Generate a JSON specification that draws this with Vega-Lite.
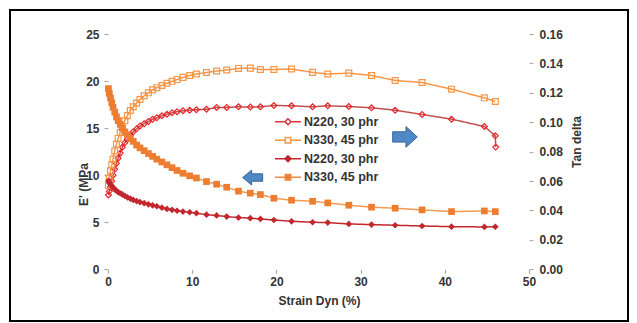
{
  "$schema": "https://vega.github.io/schema/vega-lite/v6.json",
  "width": 618,
  "height": 311,
  "autosize": {"type": "none"},
  "padding": {"left": 10, "top": 10, "right": 9, "bottom": 2},
  "background": "white",
  "config": {
    "view": {"stroke": "black", "strokeWidth": 2},
    "font": "Liberation Sans",
    "axis": {
      "domain": false, "grid": false,
      "tickColor": "#ABABAB", "tickSize": 4, "tickWidth": 1.2,
      "labelFont": "Liberation Sans", "labelFontSize": 12, "labelFontWeight": "bold", "labelColor": "#333333",
      "titleFont": "Liberation Sans", "titleFontSize": 12, "titleFontWeight": "bold", "titleColor": "#333333"
    }
  },
  "datasets": {
    "arrows": [
      {"dir": "right", "x": 35.27, "v": 0.0900},
      {"dir": "left", "x": 17.18, "v": 0.0624}
    ],
    "tan": [
      {"s":"N220 tan","x":0.05,"v":0.0506},{"s":"N220 tan","x":0.15,"v":0.053},{"s":"N220 tan","x":0.3,"v":0.056},{"s":"N220 tan","x":0.45,"v":0.060},{"s":"N220 tan","x":0.6,"v":0.064},
      {"s":"N220 tan","x":0.8,"v":0.068},{"s":"N220 tan","x":1.0,"v":0.072},{"s":"N220 tan","x":1.2,"v":0.0755},{"s":"N220 tan","x":1.45,"v":0.079},{"s":"N220 tan","x":1.7,"v":0.083},
      {"s":"N220 tan","x":2.0,"v":0.086},{"s":"N220 tan","x":2.3,"v":0.0885},{"s":"N220 tan","x":2.65,"v":0.091},{"s":"N220 tan","x":3.0,"v":0.0935},{"s":"N220 tan","x":3.4,"v":0.0955},
      {"s":"N220 tan","x":3.8,"v":0.0975},{"s":"N220 tan","x":4.3,"v":0.099},{"s":"N220 tan","x":4.8,"v":0.1005},{"s":"N220 tan","x":5.3,"v":0.102},{"s":"N220 tan","x":5.8,"v":0.103},
      {"s":"N220 tan","x":6.4,"v":0.1044},{"s":"N220 tan","x":7.0,"v":0.1055},{"s":"N220 tan","x":7.6,"v":0.1064},{"s":"N220 tan","x":8.2,"v":0.1072},{"s":"N220 tan","x":8.9,"v":0.1078},
      {"s":"N220 tan","x":9.7,"v":0.1082},{"s":"N220 tan","x":10.5,"v":0.1085},{"s":"N220 tan","x":11.7,"v":0.1088},{"s":"N220 tan","x":12.9,"v":0.110},{"s":"N220 tan","x":14.1,"v":0.110},
      {"s":"N220 tan","x":15.5,"v":0.1105},{"s":"N220 tan","x":16.9,"v":0.1103},{"s":"N220 tan","x":18.1,"v":0.1105},{"s":"N220 tan","x":19.7,"v":0.1114},{"s":"N220 tan","x":21.8,"v":0.1112},
      {"s":"N220 tan","x":24.3,"v":0.1105},{"s":"N220 tan","x":26.1,"v":0.1112},{"s":"N220 tan","x":28.6,"v":0.1107},{"s":"N220 tan","x":31.3,"v":0.1098},{"s":"N220 tan","x":34.1,"v":0.1082},
      {"s":"N220 tan","x":37.3,"v":0.1053},{"s":"N220 tan","x":40.8,"v":0.1021},{"s":"N220 tan","x":44.7,"v":0.0971},{"s":"N220 tan","x":46.0,"v":0.0908},{"s":"N220 tan","x":46.05,"v":0.0831},
      {"s":"N330 tan","x":0.05,"v":0.057},{"s":"N330 tan","x":0.15,"v":0.062},{"s":"N330 tan","x":0.3,"v":0.067},{"s":"N330 tan","x":0.45,"v":0.071},{"s":"N330 tan","x":0.6,"v":0.075},
      {"s":"N330 tan","x":0.8,"v":0.0805},{"s":"N330 tan","x":1.0,"v":0.085},{"s":"N330 tan","x":1.2,"v":0.089},{"s":"N330 tan","x":1.45,"v":0.093},{"s":"N330 tan","x":1.7,"v":0.097},
      {"s":"N330 tan","x":2.0,"v":0.101},{"s":"N330 tan","x":2.3,"v":0.1045},{"s":"N330 tan","x":2.65,"v":0.108},{"s":"N330 tan","x":3.0,"v":0.1105},{"s":"N330 tan","x":3.4,"v":0.113},
      {"s":"N330 tan","x":3.8,"v":0.1155},{"s":"N330 tan","x":4.3,"v":0.118},{"s":"N330 tan","x":4.8,"v":0.120},{"s":"N330 tan","x":5.3,"v":0.122},{"s":"N330 tan","x":5.8,"v":0.1235},
      {"s":"N330 tan","x":6.4,"v":0.125},{"s":"N330 tan","x":7.0,"v":0.1265},{"s":"N330 tan","x":7.6,"v":0.1278},{"s":"N330 tan","x":8.2,"v":0.129},{"s":"N330 tan","x":8.9,"v":0.1305},
      {"s":"N330 tan","x":9.7,"v":0.1318},{"s":"N330 tan","x":10.5,"v":0.1328},{"s":"N330 tan","x":11.7,"v":0.1338},{"s":"N330 tan","x":12.9,"v":0.1348},{"s":"N330 tan","x":14.1,"v":0.1355},
      {"s":"N330 tan","x":15.5,"v":0.1366},{"s":"N330 tan","x":16.9,"v":0.1368},{"s":"N330 tan","x":18.1,"v":0.1359},{"s":"N330 tan","x":19.7,"v":0.1359},{"s":"N330 tan","x":21.8,"v":0.1362},
      {"s":"N330 tan","x":24.3,"v":0.1339},{"s":"N330 tan","x":26.1,"v":0.1328},{"s":"N330 tan","x":28.6,"v":0.1334},{"s":"N330 tan","x":31.3,"v":0.1318},{"s":"N330 tan","x":34.1,"v":0.1284},
      {"s":"N330 tan","x":37.3,"v":0.127},{"s":"N330 tan","x":40.8,"v":0.1225},{"s":"N330 tan","x":44.7,"v":0.1166},{"s":"N330 tan","x":46.0,"v":0.1141}
    ],
    "mod": [
      {"s":"N220 E","x":0.05,"v":9.4},{"s":"N220 E","x":0.15,"v":9.2},{"s":"N220 E","x":0.3,"v":9.0},{"s":"N220 E","x":0.45,"v":8.85},{"s":"N220 E","x":0.6,"v":8.7},
      {"s":"N220 E","x":0.8,"v":8.5},{"s":"N220 E","x":1.0,"v":8.35},{"s":"N220 E","x":1.2,"v":8.2},{"s":"N220 E","x":1.45,"v":8.08},{"s":"N220 E","x":1.7,"v":7.95},
      {"s":"N220 E","x":2.0,"v":7.8},{"s":"N220 E","x":2.3,"v":7.65},{"s":"N220 E","x":2.65,"v":7.5},{"s":"N220 E","x":3.0,"v":7.37},{"s":"N220 E","x":3.4,"v":7.25},
      {"s":"N220 E","x":3.8,"v":7.14},{"s":"N220 E","x":4.3,"v":7.02},{"s":"N220 E","x":4.8,"v":6.9},{"s":"N220 E","x":5.3,"v":6.8},{"s":"N220 E","x":5.8,"v":6.7},
      {"s":"N220 E","x":6.4,"v":6.55},{"s":"N220 E","x":7.0,"v":6.42},{"s":"N220 E","x":7.6,"v":6.32},{"s":"N220 E","x":8.2,"v":6.22},{"s":"N220 E","x":8.9,"v":6.13},
      {"s":"N220 E","x":9.7,"v":6.06},{"s":"N220 E","x":10.5,"v":5.96},{"s":"N220 E","x":11.7,"v":5.8},{"s":"N220 E","x":12.9,"v":5.72},{"s":"N220 E","x":14.1,"v":5.6},
      {"s":"N220 E","x":15.5,"v":5.5},{"s":"N220 E","x":16.9,"v":5.43},{"s":"N220 E","x":18.1,"v":5.35},{"s":"N220 E","x":19.7,"v":5.24},{"s":"N220 E","x":21.8,"v":5.1},
      {"s":"N220 E","x":24.3,"v":5.0},{"s":"N220 E","x":26.1,"v":4.96},{"s":"N220 E","x":28.6,"v":4.82},{"s":"N220 E","x":31.3,"v":4.75},{"s":"N220 E","x":34.1,"v":4.68},
      {"s":"N220 E","x":37.3,"v":4.6},{"s":"N220 E","x":40.8,"v":4.53},{"s":"N220 E","x":44.7,"v":4.5},{"s":"N220 E","x":46.0,"v":4.52},
      {"s":"N330 E","x":0.05,"v":19.2},{"s":"N330 E","x":0.15,"v":18.7},{"s":"N330 E","x":0.3,"v":18.2},{"s":"N330 E","x":0.45,"v":17.7},{"s":"N330 E","x":0.6,"v":17.2},
      {"s":"N330 E","x":0.8,"v":16.7},{"s":"N330 E","x":1.0,"v":16.2},{"s":"N330 E","x":1.2,"v":15.8},{"s":"N330 E","x":1.45,"v":15.4},{"s":"N330 E","x":1.7,"v":15.0},
      {"s":"N330 E","x":2.0,"v":14.6},{"s":"N330 E","x":2.3,"v":14.3},{"s":"N330 E","x":2.65,"v":13.9},{"s":"N330 E","x":3.0,"v":13.6},{"s":"N330 E","x":3.4,"v":13.2},
      {"s":"N330 E","x":3.8,"v":12.9},{"s":"N330 E","x":4.3,"v":12.6},{"s":"N330 E","x":4.8,"v":12.3},{"s":"N330 E","x":5.3,"v":12.0},{"s":"N330 E","x":5.8,"v":11.7},
      {"s":"N330 E","x":6.4,"v":11.4},{"s":"N330 E","x":7.0,"v":11.1},{"s":"N330 E","x":7.6,"v":10.8},{"s":"N330 E","x":8.2,"v":10.5},{"s":"N330 E","x":8.9,"v":10.2},
      {"s":"N330 E","x":9.7,"v":9.93},{"s":"N330 E","x":10.5,"v":9.7},{"s":"N330 E","x":11.7,"v":9.32},{"s":"N330 E","x":12.9,"v":9.04},{"s":"N330 E","x":14.1,"v":8.72},
      {"s":"N330 E","x":15.5,"v":8.3},{"s":"N330 E","x":16.9,"v":8.09},{"s":"N330 E","x":18.1,"v":7.94},{"s":"N330 E","x":19.7,"v":7.55},{"s":"N330 E","x":21.8,"v":7.34},
      {"s":"N330 E","x":24.3,"v":7.23},{"s":"N330 E","x":26.1,"v":7.05},{"s":"N330 E","x":28.6,"v":6.81},{"s":"N330 E","x":31.3,"v":6.6},{"s":"N330 E","x":34.1,"v":6.49},
      {"s":"N330 E","x":37.3,"v":6.31},{"s":"N330 E","x":40.8,"v":6.13},{"s":"N330 E","x":44.7,"v":6.2},{"s":"N330 E","x":46.0,"v":6.13}
    ]
  },
  "encoding": {
    "x": {
      "field": "x", "type": "quantitative", "title": "Strain Dyn (%)",
      "scale": {"domain": [-11.639, 61.758], "nice": false, "zero": false},
      "axis": {"values": [0, 10, 20, 30, 40, 50], "format": "d", "offset": -51.7, "labelPadding": 3, "titlePadding": 8}
    }
  },
  "layer": [
    {
      "encoding": {
        "y": {
          "field": "v", "type": "quantitative", "title": "Tan delta",
          "scale": {"domain": [-0.03516, 0.17632], "nice": false, "zero": false},
          "axis": {"orient": "right", "offset": -99, "values": [0, 0.02, 0.04, 0.06, 0.08, 0.1, 0.12, 0.14, 0.16], "format": ".2f", "labelPadding": 6,
                   "titleAngle": 270, "titleX": 47, "titleY": 131.5, "titleAlign": "center", "titleBaseline": "middle"}
        }
      },
      "layer": [
        {"data": {"values": [{}]}, "mark": {"type": "rule", "color": "#ABABAB", "strokeWidth": 1.5},
         "encoding": {"x": {"datum": 0, "type": "quantitative"}, "x2": {"datum": 50}, "y": {"datum": 0, "type": "quantitative"}}},
        {"data": {"values": [{}]}, "mark": {"type": "rule", "color": "#ABABAB", "strokeWidth": 1.5},
         "encoding": {"x": {"datum": 0, "type": "quantitative"}, "y": {"datum": 0, "type": "quantitative"}, "y2": {"datum": 0.16}}},
        {"data": {"values": [{}]}, "mark": {"type": "rule", "color": "#ABABAB", "strokeWidth": 1.5},
         "encoding": {"x": {"datum": 50, "type": "quantitative"}, "y": {"datum": 0, "type": "quantitative"}, "y2": {"datum": 0.16}}},
        {"data": {"name": "arrows"}, "transform": [{"filter": "datum.dir == 'right'"}],
         "mark": {"type": "point", "filled": true, "shape": "M-1,-0.42L0.08,-0.42L0.08,-0.84L1,0L0.08,0.84L0.08,0.42L-1,0.42Z", "size": 605, "color": "#4F88C6", "stroke": "#3A6597", "strokeWidth": 1, "opacity": 1}},
        {"data": {"name": "arrows"}, "transform": [{"filter": "datum.dir == 'left'"}],
         "mark": {"type": "point", "filled": true, "shape": "M1,-0.37L-0.1,-0.37L-0.1,-0.75L-1,0L-0.1,0.75L-0.1,0.37L1,0.37Z", "size": 400, "color": "#4F88C6", "stroke": "#3A6597", "strokeWidth": 1, "opacity": 1}},
        {"data": {"name": "tan"}, "mark": {"type": "line", "strokeWidth": 1.5},
         "encoding": {
           "stroke": {"field": "s", "type": "nominal", "scale": {"domain": ["N330 E", "N220 E", "N330 tan", "N220 tan"], "range": ["#F59A50", "#C1272D", "#F79646", "#C0504D"]}, "legend": null},
           "strokeDash": {"field": "s", "type": "nominal", "scale": {"domain": ["N220 tan", "N330 tan", "N220 E", "N330 E"], "range": [[1, 0], [1, 0], [1, 0], [1, 0]]},
             "legend": {"orient": "none", "legendX": 264, "legendY": 104.7, "title": null, "padding": 0,
               "symbolSize": 676, "clipHeight": 14, "rowPadding": 4.5, "labelOffset": 2, "symbolOffset": 0,
               "labelFont": "Liberation Sans", "labelFontSize": 12.5, "labelFontWeight": "bold", "labelColor": "#333333",
               "labelExpr": "indexof(datum.label, 'N220') == 0 ? 'N220, 30 phr' : 'N330, 45 phr'",
               "encode": {"symbols": {"update": {
                 "shape": {"signal": "indexof(datum.value, 'N220') == 0 ? 'M-1,0L-0.23,0M0.23,0L1,0M0,-0.23L0.23,0L0,0.23L-0.23,0Z' : 'M-1,0L-0.21,0M0.21,0L1,0M-0.21,-0.21L0.21,-0.21L0.21,0.21L-0.21,0.21Z'"},
                 "fill": {"signal": "indexof(datum.value, 'tan') > 0 ? 'white' : (indexof(datum.value, 'N220') == 0 ? '#C1272D' : '#ED7D31')"},
                 "stroke": {"signal": "datum.value == 'N220 tan' ? '#D9383A' : (datum.value == 'N330 tan' ? '#F79646' : (datum.value == 'N220 E' ? '#C1272D' : '#F08A3E'))"},
                 "strokeWidth": {"value": 1.5},
                 "strokeDash": {"value": [1, 0]},
                 "opacity": {"value": 1}
               }}}
             }}
         }},
        {"data": {"name": "tan"}, "mark": {"type": "point", "filled": false, "strokeWidth": 1.2, "size": 34, "opacity": 1},
         "encoding": {
           "color": {"field": "s", "type": "nominal", "scale": {"domain": ["N330 tan", "N220 tan", "N330 E", "N220 E"], "range": ["#F79646", "#E8262C", "#ED7D31", "#C1272D"]}, "legend": null},
           "shape": {"field": "s", "type": "nominal", "scale": {"domain": ["N220 tan", "N220 E", "N330 tan", "N330 E"], "range": ["diamond", "diamond", "square", "square"]}, "legend": null}
         }}
      ]
    },
    {
      "encoding": {
        "y": {
          "field": "v", "type": "quantitative", "title": "E' (MPa",
          "scale": {"domain": [-5.493, 27.55], "nice": false, "zero": false},
          "axis": {"orient": "left", "offset": -98, "values": [0, 5, 10, 15, 20, 25], "format": "d", "labelPadding": 5,
                   "titleAngle": 270, "titleX": -25, "titleY": 174, "titleAlign": "center", "titleBaseline": "middle"}
        }
      },
      "layer": [
        {"data": {"name": "mod"}, "mark": {"type": "line", "strokeWidth": 1.5},
         "encoding": {
           "stroke": {"field": "s", "type": "nominal", "scale": {"domain": ["N330 E", "N220 E", "N330 tan", "N220 tan"], "range": ["#F59A50", "#C1272D", "#F79646", "#C0504D"]}, "legend": null},
           "strokeDash": {"field": "s", "type": "nominal", "scale": {"domain": ["N220 tan", "N330 tan", "N220 E", "N330 E"], "range": [[1, 0], [1, 0], [1, 0], [1, 0]]},
             "legend": {"orient": "none", "legendX": 264, "legendY": 104.7, "title": null, "padding": 0,
               "symbolSize": 676, "clipHeight": 14, "rowPadding": 4.5, "labelOffset": 2, "symbolOffset": 0,
               "labelFont": "Liberation Sans", "labelFontSize": 12.5, "labelFontWeight": "bold", "labelColor": "#333333",
               "labelExpr": "indexof(datum.label, 'N220') == 0 ? 'N220, 30 phr' : 'N330, 45 phr'",
               "encode": {"symbols": {"update": {
                 "shape": {"signal": "indexof(datum.value, 'N220') == 0 ? 'M-1,0L-0.23,0M0.23,0L1,0M0,-0.23L0.23,0L0,0.23L-0.23,0Z' : 'M-1,0L-0.21,0M0.21,0L1,0M-0.21,-0.21L0.21,-0.21L0.21,0.21L-0.21,0.21Z'"},
                 "fill": {"signal": "indexof(datum.value, 'tan') > 0 ? 'white' : (indexof(datum.value, 'N220') == 0 ? '#C1272D' : '#ED7D31')"},
                 "stroke": {"signal": "datum.value == 'N220 tan' ? '#D9383A' : (datum.value == 'N330 tan' ? '#F79646' : (datum.value == 'N220 E' ? '#C1272D' : '#F08A3E'))"},
                 "strokeWidth": {"value": 1.5},
                 "strokeDash": {"value": [1, 0]},
                 "opacity": {"value": 1}
               }}}
             }}
         }},
        {"data": {"name": "mod"}, "mark": {"type": "point", "filled": true, "size": 45, "opacity": 1},
         "encoding": {
           "color": {"field": "s", "type": "nominal", "scale": {"domain": ["N330 tan", "N220 tan", "N330 E", "N220 E"], "range": ["#F79646", "#E8262C", "#ED7D31", "#C1272D"]}, "legend": null},
           "shape": {"field": "s", "type": "nominal", "scale": {"domain": ["N220 tan", "N220 E", "N330 tan", "N330 E"], "range": ["diamond", "diamond", "square", "square"]}, "legend": null}
         }}
      ]
    }
  ],
  "resolve": {"scale": {"y": "independent"}}
}
